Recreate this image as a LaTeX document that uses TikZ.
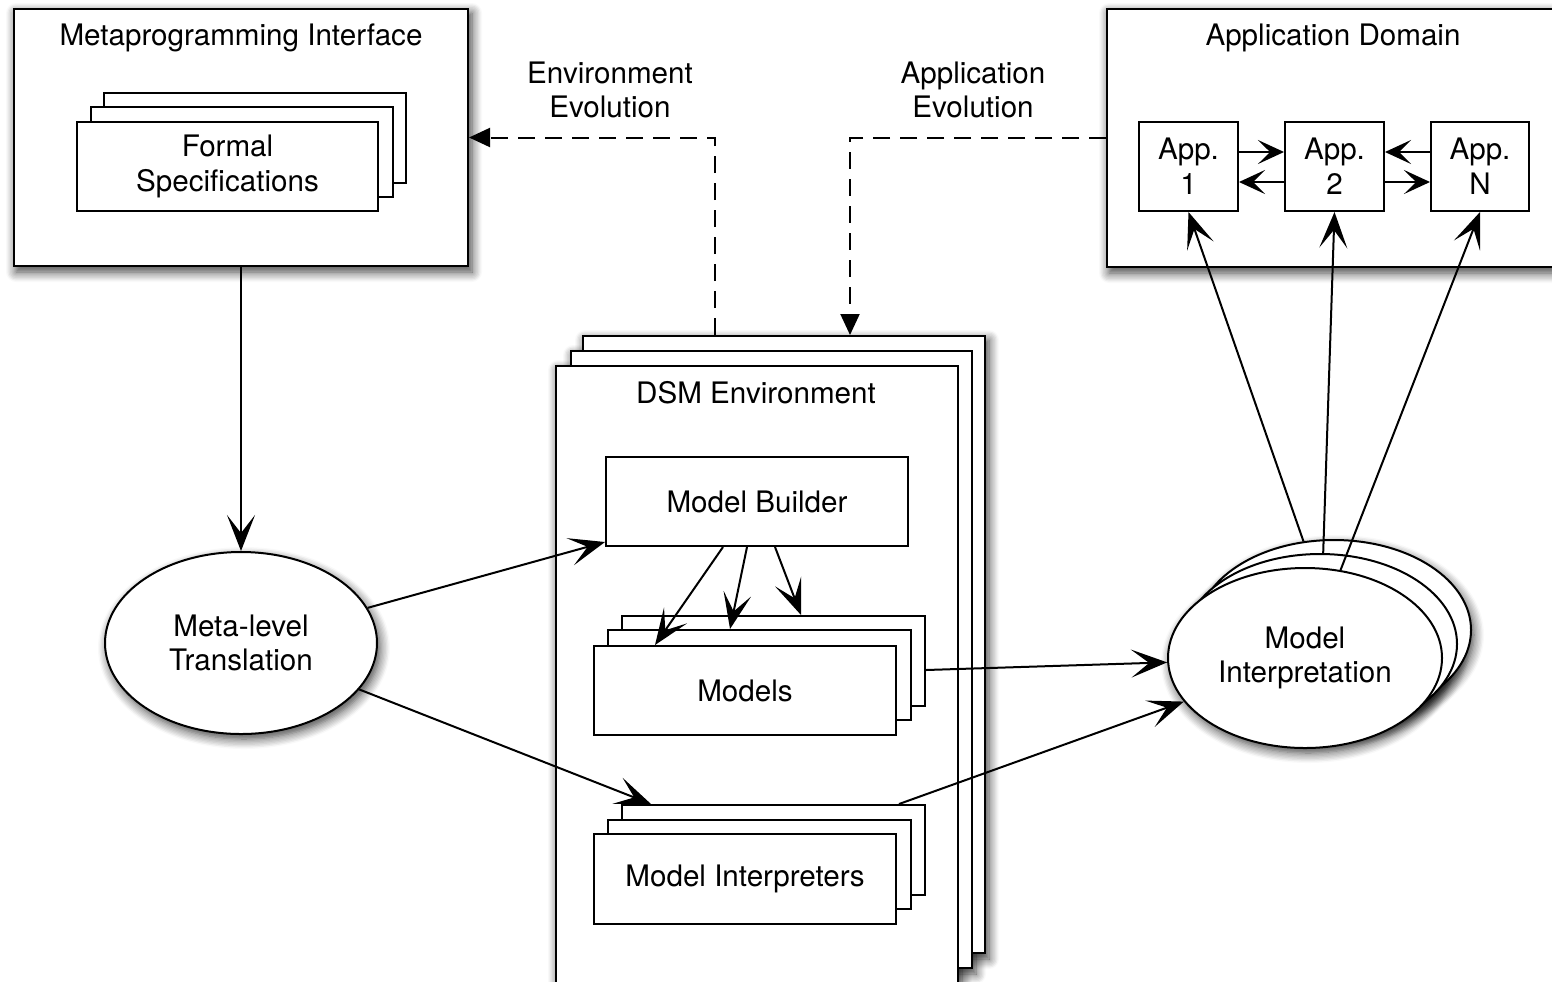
\documentclass[tikz,border=0pt]{standalone}
\usepackage{fontspec}
\setmainfont{TeX Gyre Heros}
\usetikzlibrary{arrows.meta,shapes.geometric,fit,backgrounds,shadows.blur}

\tikzset{
  lbl/.style={align=center, font=\fontsize{14.8}{17.3}\selectfont, inner sep=0pt},
  sheet/.style={draw, fill=white, line width=1pt, inner sep=0pt, lbl},
  oval/.style={sheet, ellipse, minimum width=137pt, minimum height=90pt},
  arr/.style={line width=1pt, -{Stealth[length=18pt,width=14pt,inset=9pt]}},
  smallarr/.style={line width=1pt, -{Stealth[length=13pt,width=12pt,inset=6pt]}},
  evo/.style={line width=1pt, dash pattern=on 8.5pt off 5pt, -{Triangle[length=10.5pt,width=9.5pt]}},
  shade/.style={fill=white, blur shadow={shadow xshift=1.5pt, shadow yshift=-2.5pt,
      shadow blur radius=5pt, shadow blur steps=8, shadow opacity=75}},
}
% rectangle node given by its two corners, with its text centred inside
\newcommand\sheetbox[6]{\node[sheet, fit={(#2,#3) (#4,#5)}, label={[lbl]center:{#6}}] (#1) {};}

\begin{document}
\begin{tikzpicture}[x=0.5pt, y=-0.5pt]
\useasboundingbox (0,0) rectangle (1552,981);
\begin{scope}
\clip (0,0) rectangle (1552,981);

% --- Metaprogramming interface
\sheetbox{mp}{14}{9}{468}{266}{}
\node[lbl] (mptitle) at (241,38) {Metaprogramming Interface};
\sheetbox{fs3}{104}{93}{406}{183}{}
\sheetbox{fs2}{91}{107}{393}{197}{}
\sheetbox{fs1}{77}{122}{378}{211}{Formal\\Specifications}

% --- Application domain
\sheetbox{ad}{1107}{9}{1600}{267}{}
\node[lbl] (adtitle) at (1333,38) {Application Domain};
\sheetbox{app1}{1139}{122}{1238}{211}{App.\\1}
\sheetbox{app2}{1285}{122}{1384}{211}{App.\\2}
\sheetbox{appN}{1431}{122}{1529}{211}{App.\\N}

% --- DSM environment stack
\sheetbox{dsm3}{583}{336}{985}{953}{}
\sheetbox{dsm2}{571}{351}{972}{968}{}
\sheetbox{dsm1}{556}{366}{958}{1010}{}
\node[lbl] (dsmtitle) at (756,393) {DSM Environment};
\sheetbox{mb}{606}{457}{908}{546}{Model Builder}
\sheetbox{mod3}{622}{616}{925}{706}{}
\sheetbox{mod2}{608}{630}{911}{720}{}
\sheetbox{mod1}{594}{646}{896}{735}{Models}
\sheetbox{int3}{622}{805}{925}{895}{}
\sheetbox{int2}{608}{820}{911}{909}{}
\sheetbox{int1}{594}{834}{896}{924}{Model Interpreters}

% --- ellipses
\node[oval, minimum width=136pt, minimum height=91pt] (mlt) at (241,643) {Meta-level\\Translation};
\node[oval] (mi3) at (1334,630) {};
\node[oval] (mi2) at (1320,644) {};
\node[oval] (mi1) at (1305,658) {Model\\Interpretation};

% --- evolution labels
\node[lbl] (envlbl) at (610,90) {Environment\\Evolution};
\node[lbl] (applbl) at (973,90) {Application\\Evolution};

% --- drop shadows behind the outer shapes
\begin{scope}[on background layer]
  \clip (0,0) rectangle (1552,981);
  \path[shade] (mp.south west) rectangle (mp.north east);
  \path[shade] (ad.south west) rectangle (ad.north east);
  \path[shade] (dsm3.south west) rectangle (dsm3.north east);
  \path[shade] (dsm2.south west) rectangle (dsm2.north east);
  \path[shade] (dsm1.south west) rectangle (dsm1.north east);
  \path[shade] (mlt.center) ellipse [x radius=68pt, y radius=45.5pt];
  \path[shade] (mi3.center) ellipse [x radius=68.5pt, y radius=45pt];
  \path[shade] (mi2.center) ellipse [x radius=68.5pt, y radius=45pt];
  \path[shade] (mi1.center) ellipse [x radius=68.5pt, y radius=45pt];
\end{scope}

% --- connectors
\draw[arr] (mp.south) -- (mlt.north);
\draw[arr] (mlt) -- ([yshift=2.5pt]mb.south west);
\draw[arr] (mlt) -- ([xshift=15pt]int3.north west);
\draw[arr] ([xshift=-17pt]mb.south) -- ([xshift=31pt]mod1.north west);
\draw[arr] ([xshift=-5pt]mb.south) -- ([xshift=61.5pt]mod2.north west);
\draw[arr] ([xshift=9pt]mb.south) -- ([xshift=90pt]mod3.north west);
\draw[arr] ([yshift=-4.5pt]mod3.east) -- (mi1);
\draw[arr] ([xshift=-13.5pt]int3.north east) -- (mi1);
\draw[arr] (mi3.109) -- (app1.south);
\draw[arr] (mi2.88) -- (app2.south);
\draw[arr] (mi1.68) -- (appN.south);

\draw[smallarr] ([yshift=7.25pt]app1.east) -- ([yshift=7.25pt]app2.west);
\draw[smallarr] ([yshift=-7.75pt]app2.west) -- ([yshift=-7.75pt]app1.east);
\draw[smallarr] ([yshift=7.25pt]appN.west) -- ([yshift=7.25pt]app2.east);
\draw[smallarr] ([yshift=-7.75pt]app2.east) -- ([yshift=-7.75pt]appN.west);

\draw[evo] ([xshift=66.5pt]dsm3.north west) |- (mp.east);
\draw[evo] (ad.west) -| ([xshift=134pt]dsm3.north west);
\end{scope}
\end{tikzpicture}
\end{document}
